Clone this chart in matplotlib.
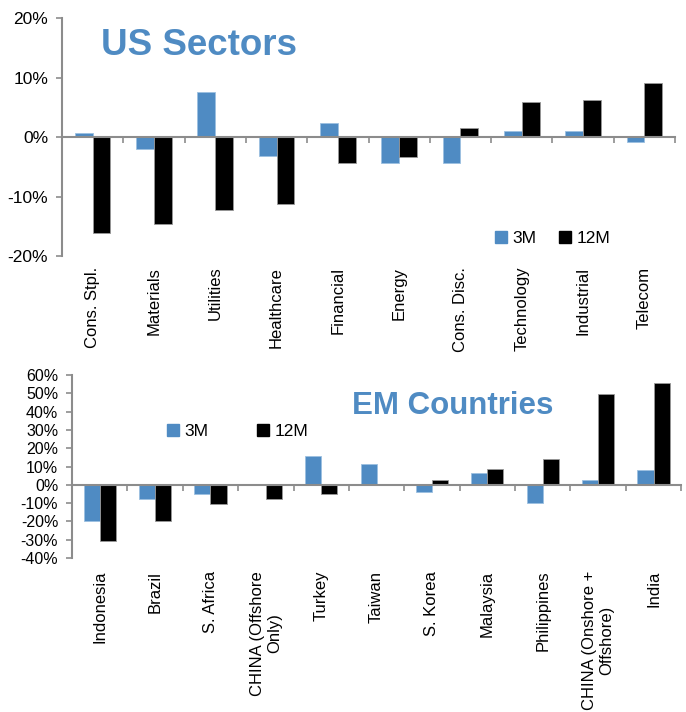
import numpy as np
import matplotlib.pyplot as plt
from matplotlib.patches import Patch

plt.rcParams['font.family'] = ['Liberation Sans', 'DejaVu Sans']

# US sector returns (%)
sectors = ["Cons. Stpl.", "Materials", "Utilities", "Healthcare", "Financial",
           "Energy", "Cons. Disc.", "Technology", "Industrial", "Telecom"]
sec_3m = [0.6, -2.0, 7.5, -3.2, 2.3, -4.4, -4.4, 1.0, 1.0, -0.8]
sec_12m = [-16.2, -14.6, -12.2, -11.2, -4.3, -3.4, 1.6, 5.9, 6.2, 9.1]

# EM country returns (%)
countries = ["Indonesia", "Brazil", "S. Africa", "CHINA (Offshore\nOnly)", "Turkey",
             "Taiwan", "S. Korea", "Malaysia", "Philippines",
             "CHINA (Onshore +\nOffshore)", "India"]
em_3m = [-19.7, -7.9, -5.1, -0.3, 15.5, 11.3, -4.2, 6.6, -9.7, 2.4, 8.2]
em_12m = [-30.5, -19.6, -10.4, -8.0, -4.9, 0.5, 2.7, 8.4, 14.1, 49.7, 55.9]

BLUE = "#4F8BC3"
GRAY = "#8C8C8C"


def draw_panel(ax, cats, v3, v12, ymin, ymax, step, tick_fs, label_off):
    x = np.arange(len(cats))
    w = 0.29
    ax.bar(x - w / 2, v3, w, color=BLUE, edgecolor="#9cc0e0", linewidth=0.6, zorder=3)
    ax.bar(x + w / 2, v12, w, color="black", edgecolor="#999999", linewidth=0.6, zorder=3)

    ax.set_xlim(-0.5, len(cats) - 0.5)
    ax.set_ylim(ymin, ymax)
    ticks = np.arange(ymin, ymax + 1, step)
    ax.set_yticks(ticks)
    ax.set_yticklabels([f"{t:d}%" for t in ticks], fontsize=tick_fs)

    for s in ["top", "right"]:
        ax.spines[s].set_visible(False)
    ax.spines["left"].set_color(GRAY)
    ax.spines["left"].set_linewidth(1.5)
    ax.spines["bottom"].set_position(("data", 0))
    ax.spines["bottom"].set_color(GRAY)
    ax.spines["bottom"].set_linewidth(1.5)
    ax.spines["bottom"].set_zorder(4)
    ax.tick_params(axis="y", colors=GRAY, labelcolor="black", length=4, width=1.2, pad=6)
    ax.set_xticks(np.arange(len(cats) + 1) - 0.5)
    ax.set_xticklabels([])
    ax.tick_params(axis="x", colors=GRAY, length=4, width=1.2)

    for i, c in enumerate(cats):
        ax.text(i, -label_off, c, transform=ax.get_xaxis_transform(), rotation=90,
                ha="center", va="top", multialignment="center", fontsize=12)


fig = plt.figure(figsize=(6.86, 7.12), dpi=100)

ax1 = fig.add_axes([0.0904, 0.6404, 0.8936, 0.3343])
draw_panel(ax1, sectors, sec_3m, sec_12m, -20, 20, 10, 12.5, 0.045)
ax1.text(0.063, 0.885, "US Sectors", transform=ax1.transAxes, fontsize=26.5,
         fontweight="bold", color=BLUE, ha="left", va="center")
ax1.legend(handles=[Patch(color=BLUE, label="3M"), Patch(color="black", label="12M")],
           loc="center", bbox_to_anchor=(0.8, 0.075), ncol=2, frameon=False,
           fontsize=12.5, handlelength=0.7, handleheight=0.7, handletextpad=0.3,
           columnspacing=1.3)

ax2 = fig.add_axes([0.105, 0.2163, 0.888, 0.257])
draw_panel(ax2, countries, em_3m, em_12m, -40, 60, 10, 11.5, 0.07)
ax2.text(0.46, 0.83, "EM Countries", transform=ax2.transAxes, fontsize=22.5,
         fontweight="bold", color=BLUE, ha="left", va="center")
ax2.legend(handles=[Patch(color=BLUE, label="3M"), Patch(color="black", label="12M")],
           loc="center", bbox_to_anchor=(0.272, 0.69), ncol=2, frameon=False,
           fontsize=12.5, handlelength=0.7, handleheight=0.7, handletextpad=0.3,
           columnspacing=2.8)

fig.savefig("out.png", dpi=100)
